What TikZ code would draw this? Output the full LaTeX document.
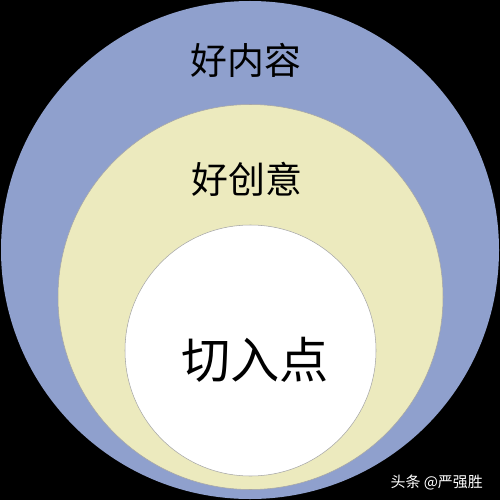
\documentclass[tikz,border=0pt]{standalone}
\usepackage{fontspec}
\newfontfamily\cjk{Noto Sans CJK SC}
\usetikzlibrary{positioning}
\definecolor{outerblue}{RGB}{143,160,205}
\definecolor{ideayellow}{RGB}{236,234,190}
\tikzset{ring/.style={draw=gray!70, line width=0.3pt}}

\begin{document}
\begin{tikzpicture}[x=0.02cm, y=-0.02cm]
\fill[black] (0,0) rectangle (500,500);
\useasboundingbox (0,0) rectangle (500,500);
\fill[outerblue] (250,250) circle (249);
\draw[ring, fill=ideayellow] (250.5,297) circle (192.5);
\draw[ring, fill=white] (250.5,350.5) circle (125.5);

\node[font=\cjk\fontsize{21pt}{21pt}\selectfont] (content) at (246,60) {好内容};
\node[font=\cjk\fontsize{21pt}{21pt}\selectfont] (idea) at (247,179) {好创意};
\node[font=\cjk\fontsize{28pt}{28pt}\selectfont] (entry) at (255,360) {切入点};
\node[font=\cjk\fontsize{8.5pt}{8.5pt}\selectfont, white, anchor=east] (mark) at (489,482) {头条 @严强胜};
\end{tikzpicture}
\end{document}
